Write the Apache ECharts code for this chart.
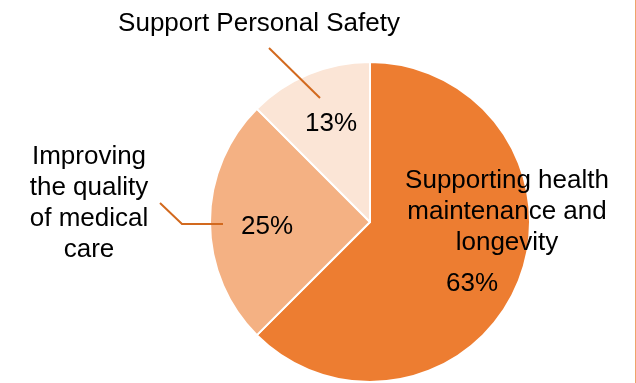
<!DOCTYPE html>
<html>
<head>
<meta charset="utf-8">
<script src="https://cdn.jsdelivr.net/npm/echarts@6/dist/echarts.min.js"></script>
<style>
    html, body { margin: 0; padding: 0; background: #fff; }
    #chart_pie { width: 636px; height: 383px; box-sizing: border-box; border-right: 1px solid #EFA46A; }
</style>
</head>
<body>
<div id="chart_pie"></div>
<script>
var categories = ['Supporting health\nmaintenance and\nlongevity', 'Improving\nthe quality\nof medical\ncare', 'Support Personal Safety'];
var shares = [62.5, 25, 12.5];
var sliceColors = ['#ED7D31', '#F4B183', '#FBE5D6'];

var chartDom = document.getElementById('chart_pie');
var chartInstance = echarts.init(chartDom);

var center = [370, 222];
var radius = 160;
var fontFamily = '"Liberation Sans", Arial, sans-serif';

// percentage label spots, relative to the pie centre
var percentOffsets = [[102, 62], [-103, 5], [-39, -98]];
// category label spots (centre of text block)
var nameSpots = [[507, 212], [89, 203], [259, 24]];
var leaderLines = [
    null,
    [[160, 203], [182, 224], [223, 224]],
    [[269, 48], [320, 98]]
];

function getChartOption() {
    var pieData = [];
    var nameData = [];
    for (var i = 0; i < shares.length; i++) {
        pieData.push({ value: shares[i], name: categories[i], itemStyle: { color: sliceColors[i] } });
        nameData.push({ value: shares[i], name: categories[i] });
    }
    return {
        animation: false,
        series: [
            {
                type: 'pie',
                z: 2,
                center: center,
                radius: radius,
                startAngle: 90,
                clockwise: true,
                data: pieData,
                itemStyle: { borderColor: '#fff', borderWidth: 2 },
                label: {
                    show: true,
                    position: 'inside',
                    color: '#000',
                    fontSize: 26,
                    fontFamily: fontFamily,
                    overflow: 'none',
                    formatter: function (p) { return Math.round(p.value) + '%'; }
                },
                labelLine: { show: false },
                labelLayout: function (p) {
                    var o = percentOffsets[p.dataIndex];
                    return { x: center[0] + o[0], y: center[1] + o[1], align: 'center', verticalAlign: 'middle' };
                }
            },
            {
                type: 'pie',
                z: 3,
                silent: true,
                center: center,
                radius: radius,
                startAngle: 90,
                clockwise: true,
                data: nameData,
                itemStyle: { color: 'rgba(0,0,0,0)', borderWidth: 0 },
                label: {
                    show: true,
                    position: 'outside',
                    alignTo: 'none',
                    overflow: 'none',
                    width: 400,
                    color: '#000',
                    fontSize: 26,
                    lineHeight: 31,
                    align: 'center',
                    fontFamily: fontFamily,
                    formatter: '{b}'
                },
                labelLine: {
                    show: true,
                    lineStyle: { color: '#D2691E', width: 2 }
                },
                labelLayout: function (p) {
                    var s = nameSpots[p.dataIndex];
                    var res = { x: s[0], y: s[1], align: 'center', verticalAlign: 'middle' };
                    res.labelLinePoints = leaderLines[p.dataIndex] || [[0, 0], [0, 0], [0, 0]];
                    return res;
                }
            }
        ]
    };
}

chartInstance.setOption(getChartOption());
</script>
</body>
</html>
